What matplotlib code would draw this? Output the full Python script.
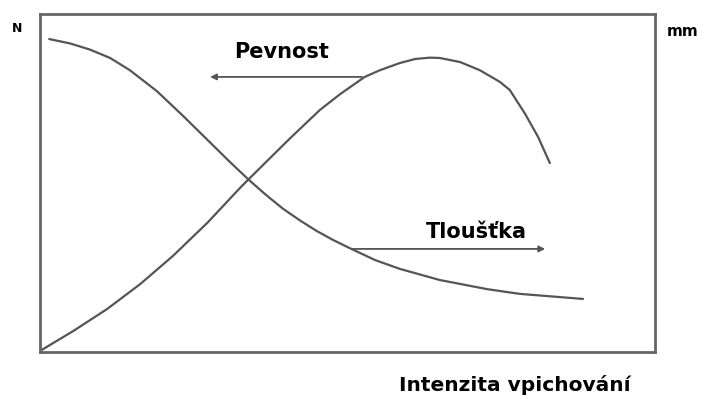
import matplotlib
matplotlib.use("Agg")
import matplotlib.pyplot as plt

# curves (x: 0-100 intensity, y: 0-100 relative)
pevnost_x = [0.0, 5.4, 10.9, 16.3, 21.6, 27.2, 32.5, 33.8, 40.7, 45.5, 48.8, 52.8, 55.3,
             58.5, 61.0, 63.4, 65.0, 68.3, 71.5, 74.8, 76.4, 78.9, 81.0, 82.9]
pevnost_y = [0.3, 6.2, 12.7, 20.1, 28.4, 38.2, 48.5, 50.9, 63.3, 71.6, 76.3, 81.4, 83.4,
             85.5, 86.7, 87.1, 87.0, 85.8, 83.4, 79.9, 77.5, 70.4, 63.6, 55.9]

tloustka_x = [1.5, 4.9, 8.1, 11.4, 14.6, 19.0, 23.3, 27.6, 30.9, 33.8, 36.6, 39.5, 42.3,
              45.0, 47.6, 50.4, 54.5, 58.5, 65.0, 72.7, 78.0, 88.3]
tloustka_y = [92.6, 91.3, 89.5, 87.0, 83.4, 77.2, 69.8, 62.1, 56.2, 51.2, 46.7, 42.4, 38.9,
              35.8, 33.2, 30.7, 27.2, 24.6, 21.3, 18.6, 17.2, 15.7]

fig = plt.figure(figsize=(7.04, 3.99), dpi=100)
ax = fig.add_axes([0.0568, 0.1178, 0.8736, 0.847])
ax.set_xlim(0, 100)
ax.set_ylim(0, 100)

col = "#555555"
ax.plot(pevnost_x, pevnost_y, color=col, lw=1.6, solid_capstyle="round", solid_joinstyle="round")
ax.plot(tloustka_x, tloustka_y, color=col, lw=1.6, solid_capstyle="round", solid_joinstyle="round")

for s in ax.spines.values():
    s.set_color("#666666")
    s.set_linewidth(2)
ax.set_xticks([])
ax.set_yticks([])

# arrows with labels
ax.annotate("", xy=(27.2, 81.4), xytext=(52.8, 81.4),
            arrowprops=dict(arrowstyle="-|>", color=col, lw=1.3, mutation_scale=9))
ax.text(39.3, 88.8, "Pevnost", ha="center", va="center", fontsize=15, fontweight="bold")

ax.annotate("", xy=(82.6, 30.5), xytext=(50.4, 30.5),
            arrowprops=dict(arrowstyle="-|>", color=col, lw=1.3, mutation_scale=9))
ax.text(70.9, 35.4, "Tloušťka", ha="center", va="center", fontsize=15, fontweight="bold")

fig.text(17 / 704, 1 - 29 / 399, "N", ha="center", va="center", fontsize=9, fontweight="bold")
fig.text(683 / 704, 1 - 31 / 399, "mm", ha="center", va="center", fontsize=11, fontweight="bold")
fig.text(515 / 704, 1 - 385 / 399, "Intenzita vpichování", ha="center", va="center",
         fontsize=14.5, fontweight="bold")

fig.savefig("out.png", dpi=100, facecolor="white")
